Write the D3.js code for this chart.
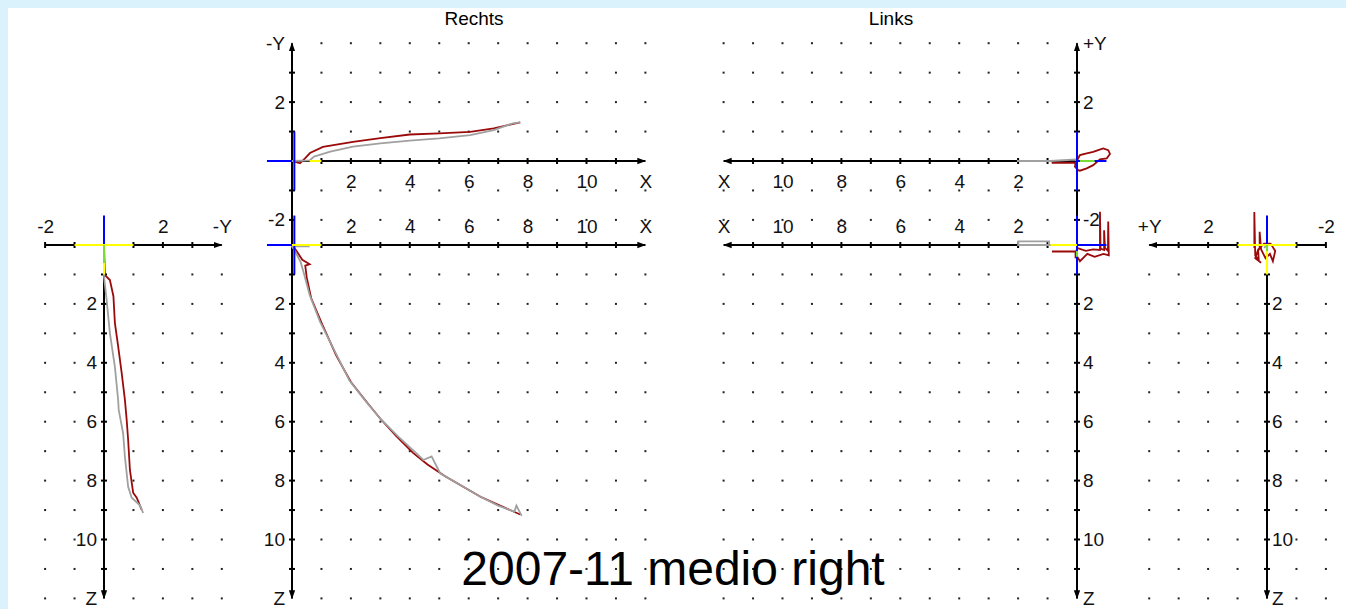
<!DOCTYPE html>
<html>
<head>
<meta charset="utf-8">
<script src="https://cdn.jsdelivr.net/npm/d3@7"></script>
<style>
  html, body { margin: 0; padding: 0; background: #daf2fc; }
  svg { display: block; }
  .tick text { font-family: "Liberation Sans", Arial, sans-serif; font-size: 19px; fill: #111; }
</style>
</head>
<body>
<div class="chart"></div>
<script>
// Trajectories, in grid units of each view

// Rechts, X / -Y view (top middle)
const rechtsXYRed = [[0,0],[0.27,-0.08],[0.45,0.1],[0.61,0.27],[1.05,0.48],[2.07,0.65],[3.0,0.78],
                     [4.0,0.9],[5.0,0.94],[6.05,0.99],[6.85,1.11],[7.75,1.31]];
const rechtsXYGray = [[0,0],[0.6,0.02],[0.75,0.15],[1.3,0.32],[2.07,0.49],[3.0,0.6],[4.0,0.69],
                      [5.0,0.77],[6.05,0.88],[6.85,1.05],[7.5,1.28],[7.75,1.31]];
// Rechts, X / Z view (bottom middle)
const rechtsXZRed = [[0,0],[0.15,0.2],[0.35,0.5],[0.6,0.65],[0.45,0.7],[0.5,1.1],[0.65,1.8],[1.05,2.75],
                     [1.5,3.75],[2.0,4.65],[2.55,5.35],[3.0,5.9],[3.55,6.5],[4.1,7.05],[4.6,7.45],
                     [5.2,7.85],[5.8,8.2],[6.4,8.55],[6.95,8.8],[7.75,9.15]];
const rechtsXZGray = [[0.6,0.05],[0,0.05],[0.1,0.2],[0.3,0.6],[0.4,0.95],[0.6,1.7],[0.95,2.6],[1.4,3.5],
                      [1.95,4.6],[2.5,5.3],[3.0,5.9],[3.6,6.5],[4.2,7.05],[4.46,7.3],[4.74,7.18],
                      [5.03,7.75],[5.8,8.2],[6.4,8.55],[7.0,8.85],[7.55,9.05],[7.62,8.85],[7.8,9.2]];
// Rechts, -Y / Z view (left)
const rechtsYZRed = [[0,0],[0.03,1.02],[0.2,1.19],[0.32,1.74],[0.37,2.65],[0.48,3.43],[0.6,4.34],
                     [0.71,5.26],[0.77,5.94],[0.82,6.62],[0.88,7.64],[0.99,8.41],[1.11,8.58],[1.28,8.99]];
const rechtsYZGray = [[0,0],[0,1.07],[0.09,1.87],[0.2,2.99],[0.37,4.14],[0.48,5.26],[0.5,5.6],
                      [0.65,6.4],[0.71,7.19],[0.82,8.21],[0.94,8.58],[1.22,8.84],[1.33,9.1]];

// Links, X / +Y view (top right)
const linksXYRed = [[0.86,-0.06],[0.05,-0.06],[0.07,-0.19],[-0.04,-0.31],[-0.1,-0.33],[-0.33,-0.25],
                    [-0.55,-0.14],[-0.78,0.06],[-1.01,0.09],[-1.12,0.24],[-1.06,0.37],[-0.89,0.43],
                    [-0.72,0.37],[-0.55,0.31],[-0.33,0.26],[-0.1,0.2],[-0.04,0.09],[0,0]];
const linksXYGray = [[2.04,0],[0.9,0],[0.05,0.05],[0,0]];
// Links, X / Z view
const linksXZRed = [[0.85,0.22],[0.05,0.22],[0.05,0.45],[0,0.1],[-0.3,0.2],[-0.55,0.15],[-0.78,0.17],
                    [-0.78,-1.13],[-0.8,0.12],[-0.92,0.17],[-0.92,-0.5],[-0.95,0.1],[-1.05,0.2],
                    [-1.06,-0.8],[-1.08,0.35],[-0.9,0.3],[-0.6,0.4],[-0.35,0.3],[-0.1,0.55],[0.05,0.3]];
const linksXZGray = [[0,0],[0.95,0],[0.95,-0.12],[2.0,-0.12],[2.0,0],[0.95,0]];
// Links, +Y / Z view (far right)
const linksYZRed = [[0.43,0.1],[0.43,-1.12],[0.4,0.35],[0.28,0.5],[0.3,0.2],[0.25,0.1],[0.25,-0.45],
                    [0.2,0.15],[0.05,0.45],[-0.1,0.3],[-0.2,0.55],[-0.28,0.2],[-0.12,-0.05],
                    [0.1,-0.05],[0.3,0.15],[0.4,0.45],[0.2,0.6]];
const linksYZGray = [[0,0],[0.1,0.1]];

// reference crosses at each origin: [view, x1, y1, x2, y2]
const blueSegs = [["rXY",0.08,1,0.08,-1],["rXY",-0.85,0,0,0],["rXZ",0.08,-1,0.08,1],["rXZ",-0.85,0,0,0],
                  ["rYZ",0,-1,0,0],["lXY",0,1,0,-1],["lXY",0,0,-1,0],["lXZ",0,-1,0,1],["lXZ",0,0,-1,0],
                  ["lYZ",0,-1,0,0]];
const yellowSegs = [["rXY",0.6,0,1,0],["rXZ",0,0,1,0],["rYZ",-1,0,1,0],["rYZ",0,0.6,0,1],
                    ["lXZ",0.9,0,0,0],["lYZ",1,0,-1,0],["lYZ",0,0,0,1]];
const greenSegs = [["rYZ",0,0,0,0.6],["lXY",-0.1,0,-0.6,0],["lXZ",0,0.2,0,0.4],["lYZ",0,0,0,0.2]];

// tick labels
const xTicks = [2, 4, 6, 8, 10, 12];   // 12 is drawn as the axis name
const zTicks = [2, 4, 6, 8, 10, 12];
const yTicks = [-2, 2, 4];

const U = 29.45;
const W = 1346, H = 609;

const svg = d3.select(".chart").append("svg")
              .attr("width", W)
              .attr("height", H);

svg.append("rect").attr("x", 8).attr("y", 8).attr("width", W - 8).attr("height", H - 8).attr("fill", "#fff");

svg.append("defs").append("marker")
   .attr("id", "arr")
   .attr("viewBox", "0 0 10 10")
   .attr("refX", 9).attr("refY", 5)
   .attr("markerWidth", 9).attr("markerHeight", 9)
   .attr("markerUnits", "userSpaceOnUse")
   .attr("orient", "auto")
   .append("path").attr("d", "M0,1.5 L10,5 L0,8.5 Z").attr("fill", "#000");

// views: horizontal scale h, vertical scale v
function lin(o, dir, lo, hi) {
  return d3.scaleLinear().domain([lo, hi]).range([o + dir * U * lo, o + dir * U * hi]);
}
const views = {
  rXY: {h: lin(292, 1, 0, 12),   v: lin(161, -1, -2, 4)},
  rXZ: {h: lin(292, 1, 0, 12),   v: lin(245, 1, 0, 12)},
  rYZ: {h: lin(104, 1, -2, 4),   v: lin(245, 1, 0, 12)},
  lXY: {h: lin(1077, -1, 0, 12), v: lin(161, -1, -2, 4)},
  lXZ: {h: lin(1077, -1, 0, 12), v: lin(245, 1, 0, 12)},
  lYZ: {h: lin(1267, -1, -2, 4), v: lin(245, 1, 0, 12)}
};

// dot grid
const cols12 = d3.range(1, 13), rows12 = d3.range(1, 13);
const sideCols = [-2, -1, 1, 2, 3, 4];
const dotSets = [["rXY", cols12, [-2, -1, 1, 2, 3, 4]], ["rXZ", cols12, rows12], ["rYZ", sideCols, rows12],
                 ["lXY", cols12, [-2, -1, 1, 2, 3, 4]], ["lXZ", cols12, rows12], ["lYZ", sideCols, rows12]];
const dots = [];
dotSets.forEach(([k, cs, rs]) => cs.forEach(c => rs.forEach(r => dots.push([k, c, r]))));
svg.append("g").selectAll("rect")
   .data(dots).enter()
   .append("rect")
   .attr("x", d => views[d[0]].h(d[1]) - 1)
   .attr("y", d => views[d[0]].v(d[2]) - 1)
   .attr("width", 2).attr("height", 2)
   .attr("fill", "#222");

// axis lines with ticks
function axisLine(k, dim, from, to, arrow) {
  const p = views[k];
  const g = svg.append("g");
  const pt = t => dim === "h" ? [p.h(t), p.v(0)] : [p.h(0), p.v(t)];
  const a = pt(from), b = pt(to);
  g.append("line").attr("x1", a[0]).attr("y1", a[1]).attr("x2", b[0]).attr("y2", b[1])
   .attr("stroke", "#000").attr("stroke-width", 2)
   .attr("marker-end", arrow ? "url(#arr)" : null);
  const lo = Math.min(from, to), hi = Math.max(from, to);
  const ts = d3.range(Math.ceil(lo), Math.floor(hi) + 1).filter(t => t !== 0 && t !== to);
  g.selectAll("line.tk").data(ts).enter().append("line")
   .attr("class", "tk")
   .attr("x1", t => dim === "h" ? p.h(t) : p.h(0) - 3)
   .attr("x2", t => dim === "h" ? p.h(t) : p.h(0) + 3)
   .attr("y1", t => dim === "h" ? p.v(0) - 3 : p.v(t))
   .attr("y2", t => dim === "h" ? p.v(0) + 3 : p.v(t))
   .attr("stroke", "#000").attr("stroke-width", 2);
}
axisLine("rXY", "h", 0, 12, true);
axisLine("rXY", "v", 0, 4, true);
axisLine("rXY", "v", 0, -2.86, false);
axisLine("rXZ", "h", 0, 12, true);
axisLine("rXZ", "v", 0, 12, true);
axisLine("rYZ", "h", -2, 4, true);
axisLine("rYZ", "v", 0, 12, true);
axisLine("lXY", "h", 0, 12, true);
axisLine("lXY", "v", 0, 4, true);
axisLine("lXY", "v", 0, -2.86, false);
axisLine("lXZ", "h", 0, 12, true);
axisLine("lXZ", "v", 0, 12, true);
axisLine("lYZ", "h", -2, 4, true);
axisLine("lYZ", "v", 0, 12, true);

// tick labels through d3 axes
function labels(axisFn, scale, vals, names, tx, ty, pad) {
  svg.append("g")
     .attr("transform", "translate(" + tx + "," + ty + ")")
     .call(axisFn(scale).tickValues(vals).tickSize(0).tickPadding(pad)
           .tickFormat(d => names[d] !== undefined ? names[d] : d))
     .call(g => g.select(".domain").remove());
}
const V = views;
labels(d3.axisBottom, V.rXY.h, xTicks, {12: "X"}, 0, 161, 14);
labels(d3.axisLeft,   V.rXY.v, yTicks, {4: "-Y"}, 292, 0, 7);
labels(d3.axisTop,    V.rXZ.h, xTicks, {12: "X"}, 0, 245, 12);
labels(d3.axisLeft,   V.rXZ.v, zTicks, {12: "Z"}, 292, 0, 7);
labels(d3.axisTop,    V.rYZ.h, yTicks, {4: "-Y"}, 0, 245, 12);
labels(d3.axisLeft,   V.rYZ.v, zTicks, {12: "Z"}, 104, 0, 7);
labels(d3.axisBottom, V.lXY.h, xTicks, {12: "X"}, 0, 161, 14);
labels(d3.axisRight,  V.lXY.v, yTicks, {4: "+Y"}, 1077, 0, 6);
labels(d3.axisTop,    V.lXZ.h, xTicks, {12: "X"}, 0, 245, 12);
labels(d3.axisRight,  V.lXZ.v, zTicks, {12: "Z"}, 1077, 0, 6);
labels(d3.axisTop,    V.lYZ.h, yTicks, {4: "+Y"}, 0, 245, 12);
labels(d3.axisRight,  V.lYZ.v, zTicks, {12: "Z"}, 1267, 0, 5);

// trajectories
const traces = [["rXY", rechtsXYRed, rechtsXYGray], ["rXZ", rechtsXZRed, rechtsXZGray],
                ["rYZ", rechtsYZRed, rechtsYZGray], ["lXY", linksXYRed, linksXYGray],
                ["lXZ", linksXZRed, linksXZGray], ["lYZ", linksYZRed, linksYZGray]];
traces.forEach(([k, red, gray]) => {
  const line = d3.line().x(d => V[k].h(d[0])).y(d => V[k].v(d[1]));
  svg.append("path").attr("d", line(red)).attr("fill", "none")
     .attr("stroke", "#9b0a0a").attr("stroke-width", 1.8);
  svg.append("path").attr("d", line(gray)).attr("fill", "none")
     .attr("stroke", "#a0a0a0").attr("stroke-width", 1.8);
});

// reference crosses
[[blueSegs, "#0000ff"], [yellowSegs, "#ffff00"], [greenSegs, "#77dd33"]].forEach(([segs, col]) => {
  svg.append("g").selectAll("line")
     .data(segs).enter()
     .append("line")
     .attr("x1", d => V[d[0]].h(d[1])).attr("y1", d => V[d[0]].v(d[2]))
     .attr("x2", d => V[d[0]].h(d[3])).attr("y2", d => V[d[0]].v(d[4]))
     .attr("stroke", col).attr("stroke-width", 2);
});

// titles
const font = "'Liberation Sans', Arial, sans-serif";
svg.append("text").text("Rechts").attr("x", 474).attr("y", 25)
   .attr("text-anchor", "middle").attr("font-family", font).attr("font-size", 19);
svg.append("text").text("Links").attr("x", 891).attr("y", 25)
   .attr("text-anchor", "middle").attr("font-family", font).attr("font-size", 19);
svg.append("text").text("2007-11 medio right").attr("x", 673).attr("y", 585)
   .attr("text-anchor", "middle").attr("font-family", font).attr("font-size", 48);
</script>
</body>
</html>
